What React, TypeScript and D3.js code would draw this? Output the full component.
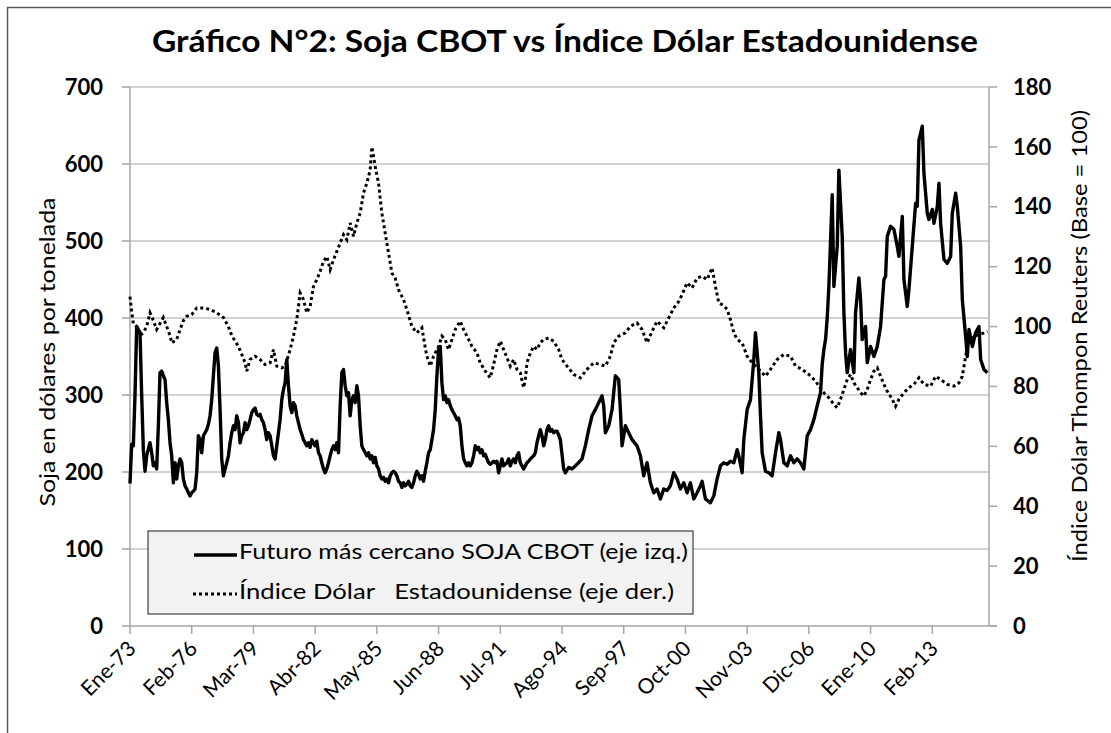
import * as d3 from "d3";

// months counted from Ene-73 (0 = Jan 1973)
const soyData: [number, number][] = [
  [0, 185], [1, 236], [2, 234], [3, 300], [4, 389], [5, 385], [6, 381], [7, 300], [8, 229], [9, 201],
  [10, 221], [11, 230], [12, 238], [13, 225], [14, 208], [15, 212], [16, 204], [17, 260], [18, 329], [19, 331],
  [20, 325], [21, 320], [22, 290], [23, 268], [24, 238], [25, 221], [26, 186], [27, 212], [28, 191], [29, 208],
  [30, 217], [31, 212], [32, 191], [33, 182], [34, 178], [35, 173], [36, 169], [37, 173], [38, 175], [39, 178],
  [40, 199], [41, 247], [42, 242], [43, 225], [44, 247], [45, 251], [46, 255], [47, 262], [48, 273], [49, 294],
  [50, 325], [51, 355], [52, 361], [53, 338], [54, 281], [55, 217], [56, 195], [57, 204], [58, 212], [59, 221],
  [60, 238], [61, 251], [62, 260], [63, 255], [64, 273], [65, 264], [66, 238], [67, 247], [68, 251], [69, 264],
  [70, 255], [71, 260], [72, 268], [73, 277], [74, 281], [75, 283], [76, 275], [77, 273], [78, 275], [79, 268],
  [80, 264], [81, 255], [82, 242], [83, 251], [84, 247], [85, 234], [86, 221], [87, 217], [88, 234], [89, 251],
  [90, 268], [91, 294], [92, 307], [93, 316], [94, 346], [95, 312], [96, 286], [97, 277], [98, 290], [99, 286],
  [100, 273], [101, 264], [102, 255], [103, 249], [104, 242], [105, 238], [106, 234], [107, 238], [108, 232], [109, 242],
  [110, 238], [111, 234], [112, 240], [113, 225], [114, 221], [115, 212], [116, 204], [117, 199], [118, 204], [119, 212],
  [120, 221], [121, 229], [122, 234], [123, 229], [124, 238], [125, 225], [126, 286], [127, 329], [128, 333], [129, 312],
  [130, 299], [131, 303], [132, 273], [133, 294], [134, 299], [135, 290], [136, 312], [137, 299], [138, 260], [139, 234],
  [140, 229], [141, 225], [142, 221], [143, 225], [144, 217], [145, 221], [146, 212], [147, 219], [148, 208], [149, 204],
  [150, 195], [151, 191], [152, 193], [153, 188], [154, 191], [155, 186], [156, 195], [157, 199], [158, 201], [159, 199],
  [160, 195], [161, 188], [162, 186], [163, 180], [164, 186], [165, 182], [166, 184], [167, 188], [168, 182], [169, 180],
  [170, 186], [171, 195], [172, 201], [173, 197], [174, 191], [175, 195], [176, 188], [177, 201], [178, 212], [179, 225],
  [180, 229], [181, 242], [182, 255], [183, 281], [184, 325], [185, 359], [186, 363], [187, 316], [188, 294], [189, 299],
  [190, 290], [191, 294], [192, 286], [193, 281], [194, 277], [195, 273], [196, 268], [197, 270], [198, 260], [199, 234],
  [200, 217], [201, 212], [202, 208], [203, 212], [204, 208], [205, 212], [206, 221], [207, 234], [208, 229], [209, 232],
  [210, 225], [211, 229], [212, 221], [213, 223], [214, 217], [215, 212], [216, 210], [217, 212], [218, 214], [219, 212],
  [220, 214], [221, 199], [222, 208], [223, 217], [224, 208], [225, 210], [226, 212], [227, 217], [228, 208], [229, 214],
  [230, 217], [231, 212], [232, 221], [233, 225], [234, 212], [235, 208], [236, 204], [237, 208], [238, 212], [239, 214],
  [240, 217], [241, 219], [242, 221], [243, 225], [244, 238], [245, 247], [246, 255], [247, 247], [248, 234], [249, 242],
  [250, 255], [251, 260], [252, 253], [253, 255], [254, 251], [255, 253], [256, 253], [257, 248], [258, 242], [260, 204],
  [261, 199], [263, 206], [265, 204], [268, 210], [271, 217], [273, 234], [275, 255], [277, 273], [279, 281], [281, 290],
  [283, 299], [284, 286], [285, 251], [287, 260], [289, 281], [291, 325], [293, 320], [294, 281], [295, 234], [297, 260],
  [299, 251], [301, 242], [304, 234], [306, 221], [308, 195], [310, 212], [312, 186], [314, 173], [316, 178], [318, 165],
  [320, 178], [322, 176], [324, 182], [326, 199], [328, 191], [330, 178], [332, 186], [334, 173], [336, 186], [338, 165],
  [340, 173], [342, 182], [343, 188], [345, 165], [348, 160], [350, 169], [352, 191], [354, 208], [356, 212], [358, 210],
  [360, 214], [362, 212], [364, 229], [365, 221], [367, 199], [368, 242], [370, 281], [372, 294], [374, 346], [375, 381],
  [377, 329], [378, 273], [379, 225], [381, 201], [383, 199], [385, 195], [387, 225], [389, 251], [390, 242], [392, 212],
  [394, 208], [396, 221], [398, 212], [400, 217], [402, 212], [404, 204], [406, 247], [408, 255], [410, 268], [412, 286],
  [414, 303], [415, 340], [416, 359], [417, 372], [418, 400], [419, 441], [421, 560], [422, 441], [424, 493], [425, 592],
  [427, 506], [428, 407], [429, 355], [430, 329], [432, 359], [434, 329], [435, 407], [437, 452], [438, 424], [439, 372],
  [441, 389], [442, 342], [444, 363], [446, 350], [448, 363], [450, 389], [452, 450], [453, 454], [454, 506], [456, 519],
  [458, 515], [460, 493], [461, 480], [463, 532], [464, 450], [466, 415], [467, 437], [469, 493], [471, 549], [472, 545],
  [473, 631], [475, 649], [476, 588], [478, 536], [479, 528], [481, 541], [482, 523], [484, 545], [485, 575], [486, 523],
  [488, 476], [490, 471], [492, 480], [493, 536], [495, 562], [496, 545], [498, 493], [499, 424], [501, 376], [502, 350],
  [503, 385], [505, 363], [507, 381], [509, 389], [510, 346], [512, 333], [514, 329],
];

const usdData: [number, number][] = [
  [0, 110], [1, 105], [2, 101], [4, 100], [6, 97], [8, 98], [10, 100], [12, 104.6], [14, 102], [16, 99],
  [18, 101], [20, 103], [22, 100], [24, 97], [25, 94.5], [28, 95.7], [30, 99], [32, 102], [34, 103.4], [37, 104],
  [40, 106.2], [44, 106.2], [48, 105.7], [52, 104.6], [56, 103], [59, 100], [61, 97], [63, 95.1], [65, 93.4], [67, 90.7],
  [69, 87.9], [70, 85.1], [72, 89], [75, 90.1], [78, 89], [81, 87.3], [84, 87.9], [86, 92.3], [88, 86.8], [91, 86.2],
  [93, 86.8], [96, 92.3], [98, 96.8], [100, 102.3], [102, 111.2], [104, 109], [106, 104.6], [108, 106.8], [110, 113.4], [112, 115.7],
  [114, 118.4], [116, 121.8], [118, 123.4], [120, 119], [122, 122.3], [124, 125.1], [126, 127.9], [128, 130.7], [130, 129], [132, 134.6],
  [134, 130.1], [136, 134.6], [138, 137.9], [140, 144.6], [142, 147.9], [144, 152.3], [145, 160], [146, 157], [147, 153.4], [149, 147.9],
  [151, 137.9], [153, 131.2], [155, 124.6], [157, 117.9], [159, 116.2], [161, 112.3], [164, 109], [166, 105.7], [169, 100], [172, 97.9],
  [175, 99.6], [177, 93], [178, 90.1], [180, 86.8], [182, 90.1], [185, 93.4], [187, 96.8], [189, 95.7], [191, 92.3], [193, 95.7],
  [195, 99], [198, 101.8], [200, 99], [203, 95.7], [205, 93.4], [208, 91.2], [210, 87.9], [213, 85.1], [216, 82.9], [218, 87.3],
  [220, 92.3], [222, 95.1], [224, 92.3], [226, 89.6], [228, 86.8], [230, 89], [232, 85.7], [234, 84.6], [236, 79.6], [237, 82.3],
  [238, 87.9], [240, 91.2], [242, 93.4], [244, 92.3], [246, 94.6], [248, 95.7], [251, 96.2], [254, 95.1], [257, 92.3], [259, 89],
  [262, 86.8], [266, 84], [270, 82.9], [274, 85.7], [278, 87.9], [282, 87.3], [285, 86.8], [288, 90.1], [290, 94.6], [293, 96.8],
  [297, 97.9], [300, 100.1], [304, 101.2], [307, 99], [310, 94.6], [313, 98.4], [316, 101.8], [320, 99.6], [323, 102.9], [326, 106.2],
  [329, 108.4], [331, 110.7], [334, 114.6], [337, 112.9], [340, 116.2], [343, 116.8], [346, 115.7], [349, 119.6], [351, 113.4], [353, 107.9],
  [356, 107], [358, 105.7], [360, 102.3], [362, 97.9], [364, 95.7], [367, 94.5], [370, 90.1], [373, 87.9], [377, 85.7], [381, 83.4],
  [384, 85.7], [388, 89], [392, 90.7], [396, 90.1], [399, 86.8], [403, 85.7], [407, 84], [411, 81.8], [415, 78.4], [419, 76.2],
  [422, 74], [424, 72.9], [426, 75.7], [428, 79], [430, 82.3], [432, 84], [434, 81.2], [436, 79.6], [438, 77.9], [440, 76.8],
  [442, 79], [444, 82.3], [446, 85.1], [448, 86.2], [450, 83.4], [452, 80.7], [454, 78.4], [457, 75.7], [459, 73.4], [461, 75.7],
  [464, 77.9], [467, 79.6], [470, 80.7], [473, 82.9], [476, 80.7], [480, 80.1], [483, 83.4], [486, 82.3], [490, 80.7], [494, 80.1],
  [497, 81.2], [499, 83.4], [501, 90.1], [503, 95.7], [506, 96.8], [509, 97.3], [512, 97.9], [514, 98.4],
];

const tickMonths = [0, 37, 74, 111, 148, 185, 222, 259, 296, 333, 370, 407, 444, 481];
const tickLabels = ["Ene-73", "Feb-76", "Mar-79", "Abr-82", "May-85", "Jun-88", "Jul-91", "Ago-94", "Sep-97", "Oct-00", "Nov-03", "Dic-06", "Ene-10", "Feb-13"];
const leftTicks = [0, 100, 200, 300, 400, 500, 600, 700];
const rightTicks = [0, 20, 40, 60, 80, 100, 120, 140, 160, 180];

const FONT = "Lato, 'Open Sans', sans-serif";

export default function App() {
  const left = 130, right = 989, top = 87, bottom = 626;

  const x = d3.scaleLinear().domain([0, 515]).range([left, right]);
  const yL = d3.scaleLinear().domain([0, 700]).range([bottom, top]);
  const yR = d3.scaleLinear().domain([0, 180]).range([bottom, top]);

  const soyLine = d3.line<[number, number]>().x((d) => x(d[0])).y((d) => yL(d[1]));
  const usdLine = d3.line<[number, number]>().x((d) => x(d[0])).y((d) => yR(d[1]));

  return (
    <svg
      width={1111}
      height={733}
      style={{ position: "absolute", left: 0, top: 0, background: "#fff" }}
      fontFamily={FONT}
    >
      {/* chart border */}
      <rect x={7.5} y={7.5} width={1200} height={800} fill="#fff" stroke="#595959" strokeWidth={1.5} />

      <text x={565} y={52} textAnchor="middle" fontSize={30} fontWeight="bold" textLength={826} lengthAdjust="spacingAndGlyphs">
        Gráfico N°2: Soja CBOT vs Índice Dólar Estadounidense
      </text>

      {/* gridlines */}
      {leftTicks.filter((t) => t > 0).map((t) => (
        <line key={t} x1={left} x2={right} y1={yL(t)} y2={yL(t)} stroke="#c3c3c3" strokeWidth={1.6} />
      ))}

      {/* axes */}
      <line x1={left} x2={left} y1={top} y2={bottom} stroke="#a6a6a6" strokeWidth={1.5} />
      <line x1={right} x2={right} y1={top} y2={bottom} stroke="#a6a6a6" strokeWidth={1.5} />
      <line x1={left} x2={right + 8} y1={bottom} y2={bottom} stroke="#a6a6a6" strokeWidth={1.5} />

      {leftTicks.map((t) => (
        <g key={t}>
          <line x1={left - 8} x2={left} y1={yL(t)} y2={yL(t)} stroke="#a6a6a6" strokeWidth={1.5} />
          <text x={103} y={yL(t)} dy="0.35em" textAnchor="end" fontSize={22} fontWeight="bold">{t}</text>
        </g>
      ))}

      {rightTicks.map((t) => (
        <g key={t}>
          <line x1={right} x2={right + 8} y1={yR(t)} y2={yR(t)} stroke="#a6a6a6" strokeWidth={1.5} />
          <text x={1013} y={yR(t)} dy="0.35em" fontSize={22} fontWeight="bold">{t}</text>
        </g>
      ))}

      {tickMonths.map((m, i) => (
        <g key={m}>
          <line x1={x(m)} x2={x(m)} y1={bottom} y2={bottom + 8} stroke="#a6a6a6" strokeWidth={1.5} />
          <text
            transform={`translate(${x(m) + 7},${bottom + 24}) rotate(-45)`}
            textAnchor="end"
            fontSize={21}
          >
            {tickLabels[i]}
          </text>
        </g>
      ))}

      {/* axis titles */}
      <text transform="translate(46,352) rotate(-90)" textAnchor="middle" dominantBaseline="central" fontSize={22} textLength={309} lengthAdjust="spacingAndGlyphs">
        Soja en dólares por tonelada
      </text>
      <text transform="translate(1078,336) rotate(-90)" textAnchor="middle" dominantBaseline="central" fontSize={22} textLength={452} lengthAdjust="spacingAndGlyphs">
        Índice Dólar Thompon Reuters (Base = 100)
      </text>

      {/* series */}
      <path d={usdLine(usdData) ?? ""} fill="none" stroke="#000" strokeWidth={3} strokeDasharray="3 3" />
      <path d={soyLine(soyData) ?? ""} fill="none" stroke="#000" strokeWidth={3.4} strokeLinejoin="round" />

      {/* legend */}
      <rect x={148} y={531} width={545} height={83} fill="#f2f2f2" stroke="#404040" strokeWidth={1.2} />
      <line x1={194} x2={237} y1={555} y2={555} stroke="#000" strokeWidth={3.4} />
      <text x={239} y={559} fontSize={22} textLength={449} lengthAdjust="spacingAndGlyphs">
        Futuro más cercano SOJA CBOT (eje izq.)
      </text>
      <line x1={193} x2={237} y1={594} y2={594} stroke="#000" strokeWidth={3} strokeDasharray="3 3" />
      <text x={239} y={599} fontSize={22} style={{ whiteSpace: "pre" }} textLength={435} lengthAdjust="spacingAndGlyphs">
        {"Índice Dólar   Estadounidense (eje der.)"}
      </text>
    </svg>
  );
}
